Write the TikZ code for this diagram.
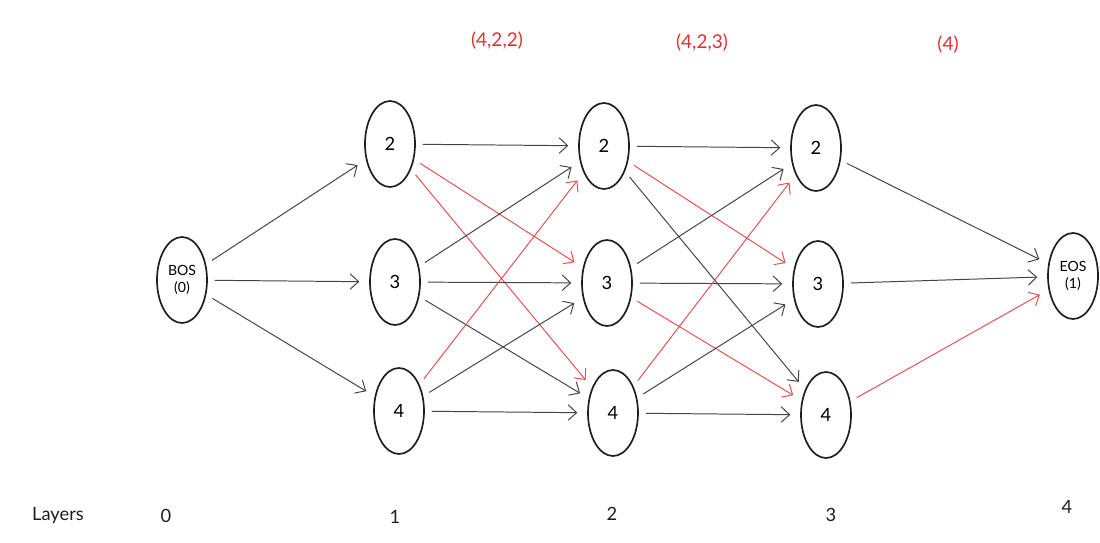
\documentclass[tikz,border=0pt]{standalone}
\usepackage{fontspec}
\setmainfont{Lato}
\usetikzlibrary{shapes.geometric,arrows.meta}
\definecolor{ink}{HTML}{1E1E1E}
\definecolor{edgegray}{HTML}{444444}
\definecolor{pathred}{HTML}{E03131}
\tikzstyle{state} = [draw=ink, line width=1.2pt, ellipse, minimum width=1.25cm, minimum height=2.15cm, inner sep=0pt, font=\fontsize{13}{15}\selectfont]
\tikzstyle{endstate} = [state, font=\fontsize{10}{12}\selectfont, align=center]
\tikzstyle{link} = [draw=edgegray, line width=0.7pt, -{Straight Barb[length=6pt,width=11pt]}, shorten <=5pt, shorten >=7pt]
\tikzstyle{bestlink} = [link, draw=pathred!85]
\tikzstyle{tuple} = [text=pathred, font=\fontsize{13.5}{15}\selectfont]
\tikzstyle{layer} = [text=ink, font=\fontsize{13}{15}\selectfont]
\begin{document}
\begin{tikzpicture}[x=0.025cm, y=-0.025cm]
		\useasboundingbox (0,0) rectangle (1100,542);
		% states
		\node[endstate] (bos) at (182,280) {BOS\\(0)};
		\node[state] (a2) at (390,144) {2};
		\node[state] (a3) at (395,282) {3};
		\node[state] (a4) at (399,411) {4};
		\node[state] (b2) at (604,146) {2};
		\node[state] (b3) at (607,283) {3};
		\node[state] (b4) at (613,413) {4};
		\node[state] (c2) at (816,148) {2};
		\node[state] (c3) at (818,284) {3};
		\node[state] (c4) at (826,415) {4};
		\node[endstate] (eos) at (1073,276) {EOS\\(1)};
		% links
		\draw[link] (bos) -- (a2);
		\draw[link] (bos) -- (a3);
		\draw[link] (bos) -- (a4);
		\draw[link] (a2) -- (b2);
		\draw[bestlink] (a2) -- (b3);
		\draw[bestlink] (a2) -- (b4);
		\draw[link] (a3) -- (b2);
		\draw[link] (a3) -- (b3);
		\draw[link] (a3) -- (b4);
		\draw[bestlink] (a4) -- (b2);
		\draw[link] (a4) -- (b3);
		\draw[link] (a4) -- (b4);
		\draw[link] (b2) -- (c2);
		\draw[bestlink] (b2) -- (c3);
		\draw[link] (b2) -- (c4);
		\draw[link] (b3) -- (c2);
		\draw[link] (b3) -- (c3);
		\draw[bestlink] (b3) -- (c4);
		\draw[bestlink] (b4) -- (c2);
		\draw[link] (b4) -- (c3);
		\draw[link] (b4) -- (c4);
		\draw[link] (c2) -- (eos);
		\draw[link] (c3) -- (eos);
		\draw[bestlink] (c4) -- (eos);
		% best paths
		\node[tuple] (t2) at (497,41) {(4,2,2)};
		\node[tuple] (t3) at (702,43) {(4,2,3)};
		\node[tuple] (t4) at (948,45) {(4)};
		% layer numbers
		\node[layer] (lay) at (58,516) {Layers};
		\node[layer] (l0) at (166,516) {0};
		\node[layer] (l1) at (395,517) {1};
		\node[layer] (l2) at (612,514) {2};
		\node[layer] (l3) at (831,515) {3};
		\node[layer] (l4) at (1067,507) {4};
	\end{tikzpicture}
\end{document}
